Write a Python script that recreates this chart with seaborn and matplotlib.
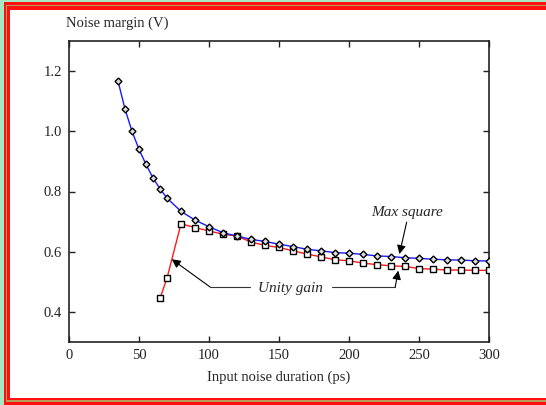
import numpy as np
import pandas as pd
import matplotlib
matplotlib.use('Agg')
import matplotlib.pyplot as plt
from matplotlib.patches import Rectangle
import seaborn as sns

sns.set_style('ticks')
plt.rcParams['font.family'] = ['Liberation Serif', 'DejaVu Serif']

# data
max_x = [35, 40, 45, 50, 55, 60, 65, 70, 80, 90, 100, 110, 120, 130, 140, 150, 160,
         170, 180, 190, 200, 210, 220, 230, 240, 250, 260, 270, 280, 290, 300]
max_y = [1.167, 1.074, 1.000, 0.940, 0.890, 0.845, 0.809, 0.778, 0.734, 0.705, 0.683,
         0.663, 0.652, 0.641, 0.634, 0.625, 0.617, 0.608, 0.603, 0.597, 0.595, 0.591,
         0.586, 0.584, 0.580, 0.578, 0.575, 0.573, 0.572, 0.570, 0.569]

unity_x = [65, 70, 80, 90, 100, 110, 120, 130, 140, 150, 160, 170, 180, 190, 200,
           210, 220, 230, 240, 250, 260, 270, 280, 290, 300]
unity_y = [0.445, 0.512, 0.693, 0.680, 0.669, 0.658, 0.652, 0.632, 0.621, 0.614,
           0.603, 0.592, 0.583, 0.573, 0.570, 0.562, 0.557, 0.553, 0.551, 0.544,
           0.542, 0.539, 0.539, 0.538, 0.538]

x_ticks = [0, 50, 100, 150, 200, 250, 300]
y_ticks = [0.4, 0.6, 0.8, 1.0, 1.2]

W, H = 546, 405
fig = plt.figure(figsize=(W / 100, H / 100), dpi=100)
fig.patch.set_facecolor('#a6e8c4')
fig.patch.set_edgecolor('none')
fig.patch.set_linewidth(0)


def frame(x0, y0, x1, y1, color):
    # pixel box (top-left origin) -> figure fraction
    r = Rectangle((x0 / W, 1 - y1 / H), (x1 - x0) / W, (y1 - y0) / H,
                  transform=fig.transFigure, facecolor=color,
                  edgecolor='none', linewidth=0, zorder=-10, clip_on=False)
    fig.add_artist(r)


frame(4, 2, W + 2, H + 2, '#ff1010')
frame(6, 4.5, W + 2, 402, '#b89a5a')
frame(7, 5.5, W + 2, 400, '#ff1010')
frame(10, 10, W + 2, 398, 'white')

ax = fig.add_axes([69 / W, 1 - 342 / H, 420 / W, 301 / H])
ax.set_facecolor('white')

df_max = pd.DataFrame({'x': max_x, 'y': max_y})
df_unity = pd.DataFrame({'x': unity_x, 'y': unity_y})

sns.lineplot(data=df_max, x='x', y='y', ax=ax, color='#1a1aff', lw=1,
             marker='D', markersize=3.5, markerfacecolor='#dddddd',
             markeredgecolor='black', markeredgewidth=1, zorder=4)
sns.lineplot(data=df_unity, x='x', y='y', ax=ax, color='#ff1a1a', lw=1,
             marker='s', markersize=5, markerfacecolor='white',
             markeredgecolor='black', markeredgewidth=1, zorder=3)

ax.set_xlim(0, 300)
ax.set_ylim(0.3, 1.3)
ax.set_xticks(x_ticks)
ax.set_yticks(y_ticks)
ax.set_yticklabels([f'{v:.1f}' for v in y_ticks])
ax.tick_params(direction='in', length=4, width=1, top=True, right=True,
               labelsize=10.5, colors='#222222', pad=5)
for s in ax.spines.values():
    s.set_linewidth(1.2)
    s.set_color('#222222')

ax.set_xlabel('Input noise duration (ps)', fontsize=10.5, labelpad=6)
ax.set_ylabel('')
ax.text(-0.007, 1.035, 'Noise margin (V)', transform=ax.transAxes,
        fontsize=10.5, ha='left', va='bottom')

# annotations
arrow = dict(arrowstyle='-|>', color='black', lw=0.8, mutation_scale=13,
             shrinkA=0, shrinkB=0)
ax.text(241.5, 0.731, 'Max square', style='italic', fontsize=11,
        ha='center', va='center')
ax.annotate('', xy=(236, 0.592), xytext=(241.2, 0.698), arrowprops=arrow)

ax.text(158, 0.478, 'Unity gain', style='italic', fontsize=11,
        ha='center', va='center')
ax.plot([129, 100.7], [0.483, 0.483], color='#333333', lw=0.8)
ax.annotate('', xy=(73.4, 0.575), xytext=(100.7, 0.483), arrowprops=arrow)
ax.plot([187.6, 233], [0.483, 0.483], color='#333333', lw=0.8)
ax.annotate('', xy=(235.2, 0.537), xytext=(233, 0.483), arrowprops=arrow)

fig.savefig('out.png', dpi=100, facecolor=fig.get_facecolor())
